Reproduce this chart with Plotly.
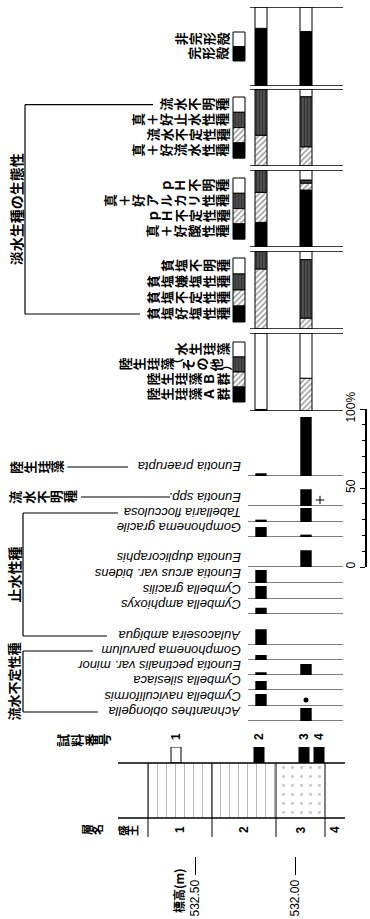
import plotly.graph_objects as go
import numpy as np

# ======================= DATA =======================
sample_ids = ["1", "2", "3", "4"]
sample_elev = [532.595, 532.18, 531.955, 531.88]          # elevation (m)
sample_counted = [False, True, True, True]

counted_ids = ["2", "3"]
counted_elev = [532.17, 531.945]

species = [
    "Achnanthes oblongella",
    "Cymbella naviculiformis",
    "Cymbella silesiaca",
    "Eunotia pectinalis var. minor",
    "Gomphonema parvulum",
    "Aulacoseira ambigua",
    "Cymbella amphioxys",
    "Cymbella gracilis",
    "Eunotia arcus var. bidens",
    "Eunotia duplicoraphis",
    "Gomphonema gracile",
    "Tabellaria flocculosa",
    "Eunotia spp.",
    "Eunotia praerupta",
]
pct_sample2 = [0, 7.6, 5.7, 1.7, 3.2, 9.9, 4.0, 8.2, 8.2, 0, 6.3, 1.5, 0, 1.7]
pct_sample3 = [8.2, 0, 0, 7.0, 0, 0, 0, 0, 0, 10.6, 1.5, 8.9, 10.6, 37.3]
mark_sample3 = ["", "•", "", "", "", "", "", "", "", "", "", "", "+", ""]

group_names = ["流水不定性種", "止水性種", "流水不明種", "陸生珪藻"]
group_first = [0, 5, 12, 13]
group_last = [4, 11, 12, 13]

preservation_cats = ["完形殻", "非完形殻"]
preservation_s2 = [73, 27]
preservation_s3 = [69, 31]

current_cats = ["真＋好流水性種", "流水不定性種", "真＋好止水性種", "流水不明種"]
current_s2 = [0, 40, 60, 0]
current_s3 = [0, 25, 65, 10]

ph_cats = ["真＋好酸性種", "ｐＨ不定性種", "真＋好アルカリ性種", "ｐＨ不明種"]
ph_s2 = [32, 39, 29, 0]
ph_s3 = [74, 9, 4, 13]

salinity_cats = ["貧塩好塩性種", "貧塩不定性種", "貧塩嫌塩性種", "貧塩不明種"]
salinity_s2 = [0, 77, 23, 0]
salinity_s3 = [0, 14, 75, 11]

habitat_cats = ["陸生珪藻Ａ群", "陸生珪藻Ｂ群", "陸生珪藻（その他）", "水生珪藻"]
habitat_s2 = [2, 0, 0, 98]
habitat_s3 = [0, 42, 0, 58]

group_title = "淡水生種の生態性"

layer_names = ["盛土", "1", "2", "3", "4"]
layer_top = [532.935, 532.735, 532.415, 532.095, 531.85]
layer_bottom = [532.735, 532.415, 532.095, 531.85, 531.75]
layer_litho = ["none", "silt", "silt", "sand", "none"]

elev_ticks = [532.5, 532.0]
elev_ticktext = ["532.50", "532.00"]

# ======================= LAYOUT CONSTANTS =======================
W, H = 370, 919
X0_ELEV = 533.475          # elevation at left page edge
PX_PER_M = 200.0
PX_PER_PCT = 1.58
ROW_BASE_PX = [721, 706, 690, 675, 660, 645, 614, 599, 583, 567, 537, 522, 506, 476]
LABEL_LIFT = 9
PANELS_PX = [(7, 86), (89, 166), (170, 247), (251, 329), (333, 411)]
LEG_TOP = [32, 97, 178, 258, 342]
LEG_H = [14.5, 15.3, 15.3, 16, 15]
JP = "Noto Sans CJK JP"
LAT = "Liberation Sans"


def ex(px):
    return X0_ELEV - px / PX_PER_M


def pyp(p):
    return 1 - p / H


PAT = {
    "black": dict(color="black"),
    "white": dict(color="white"),
    "diag": dict(color="white", pattern=dict(shape="/", fgcolor="#222", bgcolor="white",
                                             size=4, solidity=0.35)),
    "vert": dict(color="white", pattern=dict(shape="|", fgcolor="#111", bgcolor="#555",
                                             size=3, solidity=0.5)),
}
LITHO = {
    "none": dict(color="rgba(0,0,0,0)"),
    "silt": dict(color="white", pattern=dict(shape="|", fgcolor="#666", bgcolor="white",
                                             size=9, solidity=0.1)),
    "sand": dict(color="white", pattern=dict(shape=".", fgcolor="#888", bgcolor="white",
                                             size=9, solidity=0.08)),
}

fig = go.Figure()
layout_axes = {}
shapes = []
annotations = []

# ---- species axes y2..y15 ----
for k, name in enumerate(species):
    ax = k + 2
    base = ROW_BASE_PX[k]
    layout_axes[f"yaxis{ax}"] = dict(domain=[pyp(base), pyp(base - 40 * PX_PER_PCT)],
                                     range=[0, 40], visible=False, anchor="x",
                                     automargin=False)
    vals = [pct_sample2[k] or None, pct_sample3[k] or None]
    fig.add_trace(go.Bar(x=counted_elev, y=vals, yaxis=f"y{ax}", width=0.057,
                         marker=dict(color="black", line=dict(width=0)),
                         showlegend=False, hoverinfo="skip"))
    shapes.append(dict(type="line", xref="x", yref=f"y{ax}", x0=ex(248), x1=ex(343),
                       y0=0, y1=0, line=dict(color="black", width=1.2)))
    m = mark_sample3[k]
    if m == "•":
        fig.add_trace(go.Scatter(x=[counted_elev[1]], y=[3.8], yaxis=f"y{ax}", mode="markers",
                                 marker=dict(symbol="circle", size=5, color="black"),
                                 showlegend=False, hoverinfo="skip"))
    elif m == "+":
        fig.add_trace(go.Scatter(x=[counted_elev[1] - 0.07], y=[3.8], yaxis=f"y{ax}",
                                 mode="markers",
                                 marker=dict(symbol="cross-thin", size=6,
                                             line=dict(color="black", width=1)),
                                 showlegend=False, hoverinfo="skip"))
    annotations.append(dict(x=243 / W, y=pyp(base - LABEL_LIFT), xref="paper", yref="paper",
                            text=f"<i>{name}</i>", textangle=180, showarrow=False,
                            xanchor="right", yanchor="middle",
                            font=dict(family=LAT, size=13, color="black")))

# ---- stacked ecology panels y16..y20 ----
panels = [
    (preservation_cats, preservation_s2, preservation_s3, ["black", "white"]),
    (current_cats, current_s2, current_s3, ["black", "diag", "vert", "white"]),
    (ph_cats, ph_s2, ph_s3, ["black", "diag", "vert", "white"]),
    (salinity_cats, salinity_s2, salinity_s3, ["black", "diag", "vert", "white"]),
    (habitat_cats, habitat_s2, habitat_s3, ["black", "diag", "vert", "white"]),
]
PIX_AX = 24
layout_axes[f"yaxis{PIX_AX}"] = dict(domain=[0, 1], range=[H, 0], visible=False, anchor="x",
                                     automargin=False)


def tate(text, y_px, x_left=None, x_right=None, size=13, pitch=14):
    pit = [7 if c in "（）()" else pitch for c in text]
    total = sum(pit)
    start = x_left if x_left is not None else x_right - total
    pos = start
    for c, p in zip(text, pit):
        annotations.append(dict(x=(pos + p / 2) / W, y=pyp(y_px), xref="paper", yref="paper",
                                text=c, textangle=-90, showarrow=False,
                                xanchor="center", yanchor="middle",
                                font=dict(family=JP, size=size, color="black", weight="bold")))
        pos += p
    return start, start + total


text_rows = {}
for j, (cats, s2, s3, sty) in enumerate(panels):
    ax = 16 + j
    top, bot = PANELS_PX[j]
    layout_axes[f"yaxis{ax}"] = dict(domain=[pyp(bot), pyp(top)], range=[0, 100],
                                     visible=False, anchor="x", automargin=False)
    b2 = np.concatenate([[0], np.cumsum(s2)[:-1]])
    b3 = np.concatenate([[0], np.cumsum(s3)[:-1]])
    for i, c in enumerate(cats):
        ys = [s2[i] or None, s3[i] or None]
        fig.add_trace(go.Bar(x=counted_elev, y=ys, base=[b2[i], b3[i]], yaxis=f"y{ax}",
                             width=0.06,
                             marker=dict(**PAT[sty[i]], line=dict(color="black", width=1)),
                             showlegend=False, hoverinfo="skip", name=c))
    for yv in (0, 100):
        shapes.append(dict(type="line", xref="x", yref=f"y{ax}", x0=ex(250), x1=ex(343),
                           y0=yv, y1=yv, line=dict(color="black", width=1.3)))
    n = len(cats)
    for r in range(n):
        i = n - 1 - r
        t = LEG_TOP[j] + r * LEG_H[j]
        fig.add_trace(go.Bar(x=[ex(239)], y=[LEG_H[j]], base=[t], yaxis=f"y{PIX_AX}",
                             width=12 / PX_PER_M,
                             marker=dict(**PAT[sty[i]], line=dict(color="black", width=1)),
                             showlegend=False, hoverinfo="skip"))
        left, _ = tate(cats[i], t + LEG_H[j] / 2, x_right=229)
        text_rows[(j, r)] = (left, t + LEG_H[j] / 2)

# bracket for the ecology legends
(ltop, ytop) = text_rows[(1, 0)]
(lbot, ybot) = text_rows[(3, 3)]
shapes += [
    dict(type="line", xref="paper", yref="paper", x0=25 / W, x1=25 / W, y0=pyp(ytop), y1=pyp(ybot),
         line=dict(color="black", width=1.2)),
    dict(type="line", xref="paper", yref="paper", x0=25 / W, x1=(ltop - 6) / W, y0=pyp(ytop),
         y1=pyp(ytop), line=dict(color="black", width=1.2)),
    dict(type="line", xref="paper", yref="paper", x0=25 / W, x1=(lbot - 5) / W, y0=pyp(ybot),
         y1=pyp(ybot), line=dict(color="black", width=1.2)),
]
annotations.append(dict(x=16 / W, y=pyp((ytop + ybot) / 2), xref="paper", yref="paper",
                        text=group_title, textangle=-90, showarrow=False,
                        xanchor="center", yanchor="middle",
                        font=dict(family=JP, size=14, color="black", weight="bold")))

# ---- species groups ----
LABEL_LEFT_PX = {"Achnanthes oblongella": 98, "Gomphonema parvulum": 93,
                 "Aulacoseira ambigua": 107, "Tabellaria flocculosa": 118,
                 "Eunotia spp.": 170, "Eunotia praerupta": 128}
for g, gname in enumerate(group_names):
    f, l = group_first[g], group_last[g]
    y_f = ROW_BASE_PX[f] - LABEL_LIFT
    y_l = ROW_BASE_PX[l] - LABEL_LIFT
    if f == l:
        _, right = tate(gname, y_f, x_left=8, size=13, pitch=13.8)
        shapes.append(dict(type="line", xref="paper", yref="paper", x0=(right + 4) / W,
                           x1=LABEL_LEFT_PX[species[f]] / W, y0=pyp(y_f), y1=pyp(y_f),
                           line=dict(color="black", width=1.2)))
    else:
        shapes.append(dict(type="line", xref="paper", yref="paper", x0=23 / W, x1=23 / W,
                           y0=pyp(y_f), y1=pyp(y_l), line=dict(color="black", width=1.2)))
        for idx, yy in ((f, y_f), (l, y_l)):
            shapes.append(dict(type="line", xref="paper", yref="paper", x0=23 / W,
                               x1=LABEL_LEFT_PX[species[idx]] / W, y0=pyp(yy), y1=pyp(yy),
                               line=dict(color="black", width=1.2)))
        annotations.append(dict(x=13 / W, y=pyp((y_f + y_l) / 2), xref="paper", yref="paper",
                                text=gname, textangle=-90, showarrow=False,
                                xanchor="center", yanchor="middle",
                                font=dict(family=JP, size=14 if len(gname) < 5 else 13,
                                          color="black", weight="bold")))

# ---- percentage scale axis y21 ----
layout_axes["yaxis21"] = dict(domain=[pyp(567), pyp(567 - 100 * PX_PER_PCT)], range=[0, 100],
                              anchor="free", position=366 / W, side="left", showline=True,
                              linecolor="black", linewidth=2, ticks="outside", ticklen=5,
                              tickcolor="black", tickwidth=1.2, tickvals=[0, 50, 100],
                              ticktext=["0", "50", "100%"], tickangle=-90,
                              tickfont=dict(family=LAT, size=12, color="black"),
                              minor=dict(ticks="outside", ticklen=3, dtick=10, tickcolor="black"),
                              showgrid=False, zeroline=False, automargin=False)
fig.add_trace(go.Scatter(x=[counted_elev[0]], y=[0], yaxis="y21", mode="markers",
                         marker=dict(opacity=0), showlegend=False, hoverinfo="skip"))

# ---- lithology (y) ----
layout_axes["yaxis"] = dict(domain=[pyp(818), pyp(763)], range=[0, 1], visible=False, anchor="x",
                            automargin=False)
for nm, t, b, lt in zip(layer_names, layer_top, layer_bottom, layer_litho):
    fig.add_trace(go.Bar(x=[(t + b) / 2], y=[1], base=[0], width=[t - b], yaxis="y",
                         marker=dict(**LITHO[lt], line=dict(width=0)),
                         showlegend=False, hoverinfo="skip"))
    if nm.isdigit():
        annotations.append(dict(x=(t + b) / 2, y=pyp(830), xref="x", yref="paper", text=nm,
                                textangle=-90, showarrow=False, xanchor="center",
                                yanchor="middle",
                                font=dict(family=LAT, size=12, color="black", weight="bold")))
    else:
        cx = (ex(0) - (t + b) / 2) * PX_PER_M
        tate(nm, 830, x_left=cx - 10, size=11, pitch=10)
shapes += [
    dict(type="line", xref="x", yref="paper", x0=ex(118), x1=ex(345), y0=pyp(763), y1=pyp(763),
         line=dict(color="black", width=1.3)),
    dict(type="line", xref="x", yref="paper", x0=ex(118), x1=ex(345), y0=pyp(818), y1=pyp(818),
         line=dict(color="black", width=1.3)),
]
for t in layer_top[1:]:
    shapes.append(dict(type="line", xref="x", yref="paper", x0=t, x1=t, y0=pyp(763),
                       y1=pyp(837), line=dict(color="black", width=1)))
tate("層名", 830, x_left=82, size=11, pitch=10)

# ---- sample markers (y22) ----
layout_axes["yaxis22"] = dict(domain=[pyp(763), pyp(747)], range=[0, 1], visible=False,
                              anchor="x", automargin=False)
fig.add_trace(go.Bar(x=sample_elev, y=[1] * len(sample_elev), base=0, width=0.05,
                     yaxis="y22",
                     marker=dict(color=["black" if c else "white" for c in sample_counted],
                                 line=dict(color="black", width=1)),
                     showlegend=False, hoverinfo="skip"))
for sid, e in zip(sample_ids, sample_elev):
    annotations.append(dict(x=e, y=pyp(737), xref="x", yref="paper", text=sid, textangle=-90,
                            showarrow=False, xanchor="center", yanchor="middle",
                            font=dict(family=LAT, size=12, color="black", weight="bold")))
tate("試料番号", 740, x_left=55, size=13, pitch=13.8)

# elevation title
annotations.append(dict(x=178 / W, y=pyp(891), xref="paper", yref="paper", text="標高(m)",
                        textangle=-90, showarrow=False, xanchor="center", yanchor="middle",
                        font=dict(family=JP, size=12, color="black", weight="bold")))

fig.update_layout(
    width=W, height=H, margin=dict(l=0, r=0, t=0, b=0, autoexpand=False),
    paper_bgcolor="white", plot_bgcolor="rgba(0,0,0,0)",
    barmode="overlay", showlegend=False,
    xaxis=dict(range=[ex(0), ex(W)], domain=[0, 1], anchor="free", position=pyp(856),
               showgrid=False, zeroline=False, showline=False, ticks="outside", ticklen=18,
               tickwidth=1.2, tickcolor="black", tickvals=elev_ticks, ticktext=elev_ticktext,
               tickangle=-90, tickfont=dict(family=LAT, size=12, color="black"),
               automargin=False),
    shapes=shapes, annotations=annotations,
    **layout_axes,
)

fig.write_html("out.html", config={"displayModeBar": False},
               post_script="document.body.style.margin='0px';"
                           "document.body.style.overflow='hidden';")
